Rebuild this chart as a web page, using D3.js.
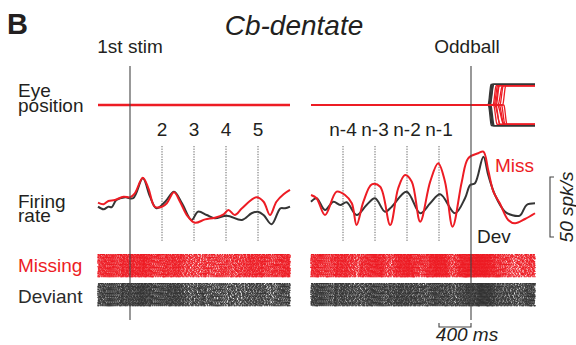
<!DOCTYPE html>
<html>
<head>
<meta charset="utf-8">
<script src="https://cdn.jsdelivr.net/npm/d3@7"></script>
<style>
  body { margin: 0; background: #fff; }
  svg text { font-family: "Liberation Sans", Arial, Helvetica, sans-serif; fill: #231f20; }
</style>
</head>
<body>
<svg id="fig" width="576" height="345"></svg>
<script>
// ---- data ----
// firing rate keypoints (ms from 1st stim / from oddball, spk/s)
var leftMissT = [-400,-330,-270,-190,-80,0,60,160,230,310,400,460,550,625,710,810,940,1060,1170,1230,1310,1400,1580,1670,1750,1830,1920,2000];
var leftMissR = [58.6,57.3,60,60.8,63.6,63.1,66.4,79.4,70.6,55.2,55.2,58.1,67.2,59.4,48.3,41.9,44.7,46.1,48.9,52.5,48.3,53.9,63.1,59.4,48.3,59.4,65.6,69.2];
var leftDevT = [-400,-330,-270,-230,-170,-60,40,160,250,330,440,550,650,770,850,960,1060,1210,1400,1520,1600,1670,1770,1880,1940,2000];
var leftDevR = [55.3,53.1,55.3,54.8,60.8,63.1,62.3,78.9,63.6,53.9,59.4,67.8,58.1,44.2,51.1,48.3,45.6,47.8,44.2,49.8,51.1,48.3,40.6,53.9,53.9,55.3];

var rightMissT = [-2000,-1930,-1825,-1680,-1575,-1490,-1430,-1345,-1240,-1135,-1010,-910,-825,-740,-635,-510,-410,-325,-230,-115,-35,90,155,215,280,360,465,550,675,800];
var rightMissR = [65,62.3,48.3,67.8,65,58.1,40,59.4,73.9,71.9,40,70.6,81.7,76.1,42.8,76.1,91.4,76.1,38.6,76.1,95.6,99.8,101.1,85.8,67.8,58.1,44.2,41.4,45,49.8];
var rightDevT = [-2000,-1930,-1825,-1720,-1635,-1555,-1430,-1305,-1200,-1075,-990,-805,-635,-510,-385,-200,-75,-10,50,155,215,300,425,510,610,695,800];
var rightDevR = [59.4,62.3,52.5,59.4,56.7,58.9,48.3,56.7,62.3,51.1,55.3,67.8,49.8,58.1,65.6,49.8,62.3,73.3,74.8,96.9,81.7,65,51.1,48.3,47.8,56.7,58.1];

// stimulus markers
var leftStims = [400, 800, 1200, 1600];
var leftStimLabels = ["2", "3", "4", "5"];
var rightStims = [-1600, -1200, -800, -400];
var rightStimLabels = ["n-4", "n-3", "n-2", "n-1"];

// saccades after the oddball (ms onset, direction, duration ms)
var devSacOnset = [212, 220, 226, 232, 240, 216, 224, 230, 238, 246];
var devSacDir   = [1, 1, 1, 1, 1, -1, -1, -1, -1, -1];
var devSacDur   = [40, 45, 40, 50, 45, 40, 45, 50, 40, 45];
var missSacOnset = [275, 288, 300, 315, 335, 360, 395, 282, 296, 310, 330, 352, 380, 410];
var missSacDir   = [1, 1, 1, 1, 1, 1, 1, -1, -1, -1, -1, -1, -1, -1];
var missSacDur   = [40, 45, 50, 40, 60, 45, 40, 45, 70, 50, 80, 60, 45, 40];

var nTrials = 30;

var RED = "#ed1c24", DARK = "#353535";

var svg = d3.select("#fig");

var xLeft = d3.scaleLinear().domain([-400, 2000]).range([98, 290]);
var xRight = d3.scaleLinear().domain([-2000, 800]).range([311, 535]);
var yRate = d3.scaleLinear().domain([30, 80]).range([237, 177]);
var yEye = d3.scaleLinear().domain([-10, 10]).range([124.5, 85.5]);
var yMiss = d3.scaleLinear().domain([0, nTrials]).range([254, 277]);
var yDev = d3.scaleLinear().domain([0, nTrials]).range([283, 306]);

function frac(v){ return v - Math.floor(v); }

// turn a rate curve into spike times for one trial (integrate and fire,
// thresholds jittered with a low-discrepancy sequence)
function spikesFor(tArr, rArr, trial){
  var rateAt = d3.scaleLinear().domain(tArr).range(rArr).clamp(true);
  var t0 = tArr[0], t1 = tArr[tArr.length - 1];
  var out = [];
  var k = 0;
  var acc = frac(trial * 0.6180339);
  var nextThr = function(){ return 0.25 + 1.5 * frac(k * 0.7548777 + trial * 0.5698403 + k * k * 0.0131); };
  var thr = nextThr();
  for (var t = t0; t <= t1; t += 2){
    acc += rateAt(t) * 0.002;
    if (acc >= thr){
      out.push(t);
      acc -= thr;
      k++;
      thr = nextThr();
    }
  }
  return out;
}

function drawRaster(x, tArr, rArr, yScale, color, seed){
  var g = svg.append("g").attr("fill", color);
  for (var i = 0; i < nTrials; i++){
    var sp = spikesFor(tArr, rArr, i + seed);
    g.selectAll(null).data(sp).enter().append("rect")
      .attr("x", function(d){ return x(d) - 0.8; })
      .attr("y", yScale(i))
      .attr("width", 1.6)
      .attr("height", 1);
  }
}

drawRaster(xLeft, leftMissT, leftMissR, yMiss, RED, 0);
drawRaster(xLeft, leftDevT, leftDevR, yDev, DARK, 40);
drawRaster(xRight, rightMissT, rightMissR, yMiss, RED, 80);
drawRaster(xRight, rightDevT, rightDevR, yDev, DARK, 120);

// dotted stimulus lines
function dotted(x, times){
  svg.append("g").selectAll("line").data(times).enter().append("line")
    .attr("x1", function(d){ return x(d); }).attr("x2", function(d){ return x(d); })
    .attr("y1", 146).attr("y2", 242)
    .attr("stroke", "#666").attr("stroke-width", 1)
    .attr("stroke-dasharray", "1.3,1.3");
}
dotted(xLeft, leftStims);
dotted(xRight, rightStims);

function stimLabels(x, times, labels){
  svg.append("g").selectAll("text").data(times).enter().append("text")
    .attr("x", function(d){ return x(d); }).attr("y", 136)
    .attr("text-anchor", "middle").attr("font-size", 19)
    .text(function(d, i){ return labels[i]; });
}
stimLabels(xLeft, leftStims, leftStimLabels);
stimLabels(xRight, rightStims, rightStimLabels);

// eye position
var eyeLine = d3.line().x(function(d){ return d[0]; }).y(function(d){ return d[1]; });
svg.append("path")
  .attr("d", eyeLine([[xLeft(-400), yEye(0)], [xLeft(2000), yEye(0)]]))
  .attr("stroke", RED).attr("stroke-width", 2.6).attr("fill", "none");

function sacTrace(onset, dir, dur, amp){
  var pts = [];
  for (var t = -2000; t <= 800; t += 4){
    var u = Math.max(0, Math.min(1, (t - onset) / dur));
    var s = u * u * (3 - 2 * u);
    pts.push([xRight(t), yEye(dir * amp * s)]);
  }
  return pts;
}
var eyeG = svg.append("g").attr("fill", "none");
devSacOnset.forEach(function(on, i){
  eyeG.append("path").attr("d", eyeLine(sacTrace(on, devSacDir[i], devSacDur[i], 10.6)))
    .attr("stroke", DARK).attr("stroke-width", 1.3);
});
missSacOnset.forEach(function(on, i){
  eyeG.append("path").attr("d", eyeLine(sacTrace(on, missSacDir[i], missSacDur[i], 9.9)))
    .attr("stroke", RED).attr("stroke-width", 1.3);
});

// firing rates
var rateLine = function(x){
  return d3.line()
    .x(function(d){ return x(d[0]); })
    .y(function(d){ return yRate(d[1]); })
    .curve(d3.curveCatmullRom.alpha(0.5));
};
function trace(x, tArr, rArr, color){
  svg.append("path")
    .attr("d", rateLine(x)(d3.zip(tArr, rArr)))
    .attr("fill", "none").attr("stroke", color).attr("stroke-width", 2)
    .attr("stroke-linejoin", "round");
}
trace(xLeft, leftDevT, leftDevR, DARK);
trace(xLeft, leftMissT, leftMissR, RED);
trace(xRight, rightDevT, rightDevR, DARK);
trace(xRight, rightMissT, rightMissR, RED);

// event lines
[[xLeft, 0], [xRight, 0]].forEach(function(e){
  svg.append("line")
    .attr("x1", e[0](e[1])).attr("x2", e[0](e[1]))
    .attr("y1", 66).attr("y2", 320)
    .attr("stroke", "#444").attr("stroke-width", 1.1);
});

// scale bars
var sb = svg.append("g").attr("fill", "none").attr("stroke", "#444").attr("stroke-width", 1.1);
sb.append("path").attr("d",
  "M" + 554 + "," + yRate(80) + "H" + 550 + "V" + yRate(30) + "H" + 554);
sb.append("path").attr("d",
  "M" + xRight(-400) + "," + 323 + "V" + 327 + "H" + xRight(0) + "V" + 323);

svg.append("text")
  .attr("transform", "translate(573," + yRate(55) + ") rotate(-90)")
  .attr("text-anchor", "middle").attr("font-size", 19).attr("font-style", "italic")
  .text("50 spk/s");
svg.append("text").attr("x", 467).attr("y", 341)
  .attr("text-anchor", "middle").attr("font-size", 19).attr("font-style", "italic")
  .text("400 ms");

// text labels
function label(x, y, txt, opts){
  opts = opts || {};
  svg.append("text").attr("x", x).attr("y", y)
    .attr("font-size", opts.size || 19)
    .attr("font-weight", opts.weight || null)
    .attr("font-style", opts.style || null)
    .attr("text-anchor", opts.anchor || "start")
    .style("fill", opts.color || null)
    .text(txt);
}
// two-line row labels, tightly set as in the figure
function label2(x, y, lines, dy){
  var t = svg.append("text").attr("x", x).attr("y", y).attr("font-size", 19);
  lines.forEach(function(s, i){
    t.append("tspan").attr("x", x).attr("dy", i === 0 ? 0 : dy).text(s);
  });
}
label(7, 34, "B", {size: 29, weight: "bold"});
label(294, 35, "Cb-dentate", {size: 28, style: "italic", anchor: "middle"});
label(130, 53, "1st stim", {anchor: "middle"});
label(467, 53, "Oddball", {anchor: "middle"});
label2(18, 97, ["Eye", "position"], 14.5);
label2(18, 208, ["Firing", "rate"], 14);
label(18, 272, "Missing", {color: RED});
label(18, 303, "Deviant", {color: "#2b2b2b"});
label(495, 172, "Miss", {color: RED});
label(477, 243, "Dev");
</script>
</body>
</html>
